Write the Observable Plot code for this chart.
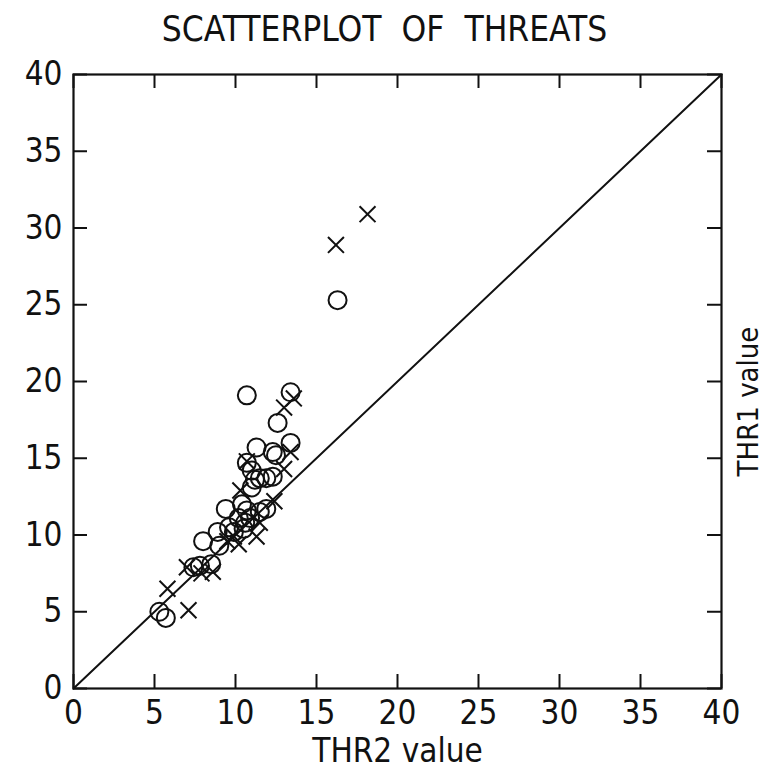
<!DOCTYPE html>
<html><head><meta charset="utf-8">
<script src="https://cdn.jsdelivr.net/npm/d3@7"></script>
<script src="https://cdn.jsdelivr.net/npm/@observablehq/plot@0.6"></script>
<style>
body{margin:0;background:#fff;}
#title{height:50px;line-height:58px;text-align:center;font-family:"Liberation Sans Narrow","DejaVu Sans Condensed","Liberation Sans",sans-serif;font-size:35px;white-space:pre;color:#111;padding-left:2px;overflow:visible;}
#chart svg{overflow:visible;}
</style></head><body>
<div id="title"></div>
<div id="chart"></div>
<script>
const titleText = "SCATTERPLOT  OF  THREATS";
const xLabel = "THR2 value";
const yLabel = "THR1 value";
const tickValues = [0, 5, 10, 15, 20, 25, 30, 35, 40];
const diagValues = [0, 40];

// Circle symbols: THR2 (x), THR1 (y)
const circleThr2 = [5.3, 5.7, 7.4, 7.8, 8.5, 8.0, 9.0, 8.9, 9.6, 9.9, 10.6, 10.5, 9.4, 10.4, 10.7, 11.5, 11.9, 10.2, 10.9, 11.0, 11.2, 11.5, 11.9, 12.3, 11.0, 10.7, 11.3, 12.3, 12.5, 13.4, 12.6, 10.7, 13.4, 16.3];
const circleThr1 = [5.0, 4.6, 7.9, 8.0, 8.1, 9.6, 9.3, 10.2, 10.5, 10.2, 10.8, 10.4, 11.7, 12.0, 11.6, 11.5, 11.7, 11.1, 11.1, 13.1, 13.6, 13.7, 13.7, 13.8, 14.2, 14.7, 15.7, 15.4, 15.2, 16.0, 17.3, 19.1, 19.3, 25.3];

// Cross symbols: THR2 (x), THR1 (y)
const crossThr2 = [5.8, 7.1, 7.0, 7.9, 8.6, 9.5, 10.2, 9.9, 11.3, 11.5, 12.4, 10.3, 10.7, 13.0, 13.4, 13.0, 13.6, 16.2, 18.15];
const crossThr1 = [6.5, 5.1, 7.9, 7.5, 7.6, 9.6, 9.4, 9.9, 9.9, 10.8, 12.2, 12.9, 14.8, 14.3, 15.4, 18.3, 18.9, 28.9, 30.9];

const circles = circleThr2.map((x, i) => ({x, y: circleThr1[i]}));
const crosses = crossThr2.map((x, i) => ({x, y: crossThr1[i]}));

document.getElementById("title").textContent = titleText;

const font = '"Liberation Sans Narrow","DejaVu Sans Condensed","Liberation Sans",sans-serif';
const W = 767, H = 723, mL = 73, mR = 46, mT = 24, mB = 85;
const fw = W - mL - mR, fh = H - mT - mB, tl = 14;

const chart = Plot.plot({
  width: W, height: H,
  marginLeft: mL, marginRight: mR, marginTop: mT, marginBottom: mB,
  style: {fontFamily: font, color: "#111", background: "#fff", overflow: "visible"},
  x: {domain: [0, 40]},
  y: {domain: [0, 40]},
  marks: [
    Plot.line(diagValues, {x: d => d, y: d => d, stroke: "#111", strokeWidth: 2}),
    Plot.tickX(tickValues, {x: d => d, insetTop: fh - tl, stroke: "#111", strokeWidth: 2}),
    Plot.tickX(tickValues, {x: d => d, insetBottom: fh - tl, stroke: "#111", strokeWidth: 2}),
    Plot.tickY(tickValues, {y: d => d, insetRight: fw - tl, stroke: "#111", strokeWidth: 2}),
    Plot.tickY(tickValues, {y: d => d, insetLeft: fw - tl, stroke: "#111", strokeWidth: 2}),
    Plot.frame({stroke: "#111", strokeWidth: 2.2}),
    Plot.axisX({ticks: tickValues, tickSize: 0, tickPadding: 12, fontSize: 33, label: null, tickFormat: d => String(d)}),
    Plot.axisY({ticks: tickValues, tickSize: 0, tickPadding: 11, fontSize: 33, label: null, tickFormat: d => String(d)}),
    Plot.dot(circles, {x: "x", y: "y", r: 9, stroke: "#111", strokeWidth: 2, fill: "none"}),
    Plot.dot(crosses, {x: "x", y: "y", symbol: "times", r: 7.3, stroke: "#111", strokeWidth: 2}),
    Plot.text([xLabel], {text: d => d, frameAnchor: "bottom", dy: 63, lineAnchor: "middle", textAnchor: "middle", fontSize: 33, fill: "#111"}),
    Plot.text([yLabel], {text: d => d, frameAnchor: "right", dx: 27, dy: 20, lineAnchor: "middle", textAnchor: "middle", rotate: -90, fontSize: 29, fill: "#111"})
  ]
});
document.getElementById("chart").appendChild(chart);
</script>
</body></html>
